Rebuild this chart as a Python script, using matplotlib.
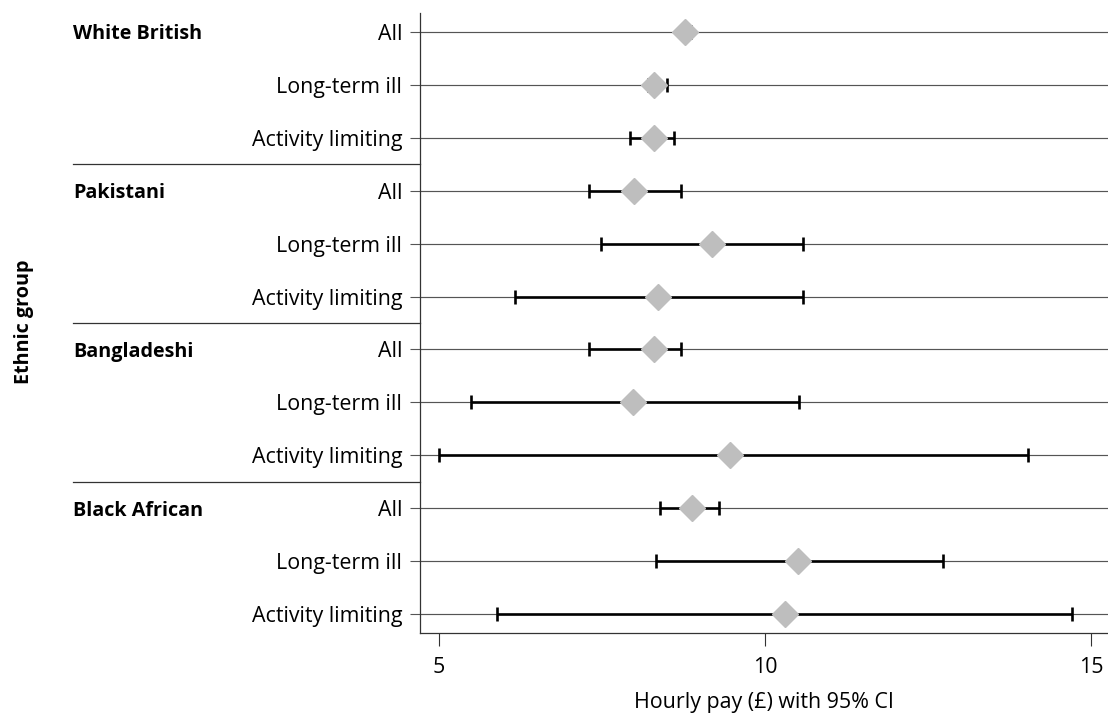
import matplotlib
matplotlib.use("Agg")
import matplotlib.pyplot as plt
import numpy as np

plt.rcParams['font.family'] = ['Open Sans', 'DejaVu Sans']

groups = ["White British", "Pakistani", "Bangladeshi", "Black African"]
subgroups = ["All", "Long-term ill", "Activity limiting"]

# mean hourly pay and 95% CI bounds, per group (All, Long-term ill, Activity limiting)
white_british_mean = [8.78, 8.30, 8.30]
white_british_low = [8.70, 8.21, 7.93]
white_british_high = [8.86, 8.50, 8.61]

pakistani_mean = [8.00, 9.19, 8.36]
pakistani_low = [7.31, 7.48, 6.17]
pakistani_high = [8.72, 10.59, 10.59]

bangladeshi_mean = [8.30, 7.98, 9.47]
bangladeshi_low = [7.31, 5.50, 5.00]
bangladeshi_high = [8.71, 10.53, 14.03]

black_african_mean = [8.88, 10.50, 10.31]
black_african_low = [8.39, 8.33, 5.89]
black_african_high = [9.29, 12.73, 14.71]

xticks = [5, 10, 15]

means = white_british_mean + pakistani_mean + bangladeshi_mean + black_african_mean
lows = white_british_low + pakistani_low + bangladeshi_low + black_african_low
highs = white_british_high + pakistani_high + bangladeshi_high + black_african_high
labels = subgroups * len(groups)

W, H = 1108, 720
fig = plt.figure(figsize=(W / 100, H / 100), dpi=100)
ax = fig.add_axes([420 / W, 1 - 633 / H, (1108 - 420) / W, (633 - 13) / H])

ypos = np.arange(len(means))
means_a = np.array(means)
xerr = np.vstack([means_a - np.array(lows), np.array(highs) - means_a])

for y in ypos:
    ax.axhline(y, color='#555555', lw=0.85, zorder=1)

ax.errorbar(means_a, ypos, xerr=xerr, fmt='none', ecolor='black', elinewidth=1.9,
            capsize=5.2, capthick=1.9, zorder=2)
ax.plot(means_a, ypos, linestyle='none', marker='D', markersize=13,
        markerfacecolor='#bebebe', markeredgecolor='#bebebe', zorder=3)

FS = 15.4
ax.set_ylim(11.35, -0.35)
ax.set_xlim(4.712, 15.26)
ax.set_yticks(ypos)
ax.set_yticklabels(labels, fontsize=FS)
ax.set_xticks(xticks)
ax.set_xticklabels([str(t) for t in xticks], fontsize=FS)
ax.tick_params(axis='y', length=7.2, width=0.8, color='#555555', pad=5.5)
ax.tick_params(axis='x', length=9.4, width=0.8, color='#333333', pad=8)

for s in ['top', 'right']:
    ax.spines[s].set_visible(False)
for s in ['left', 'bottom']:
    ax.spines[s].set_color('#333333')
    ax.spines[s].set_linewidth(0.9)

trans = ax.get_yaxis_transform()
gx = (73 - 420) / (1108 - 420)
for i, g in enumerate(groups):
    ax.text(gx, 3 * i, g, transform=trans, ha='left', va='center_baseline',
            fontsize=14.2, fontweight='bold')
for i in range(1, len(groups)):
    ax.plot([gx, 0], [3 * i - 0.5, 3 * i - 0.5], transform=trans, clip_on=False,
            color='#333333', lw=0.9)

ax.set_xlabel("Hourly pay (£) with 95% CI", fontsize=FS, labelpad=10)
fig.text(24 / W, 1 - 322 / H, "Ethnic group", rotation=90, ha='center', va='center',
         fontsize=14.2, fontweight='bold')

fig.savefig("out.png", dpi=100)
